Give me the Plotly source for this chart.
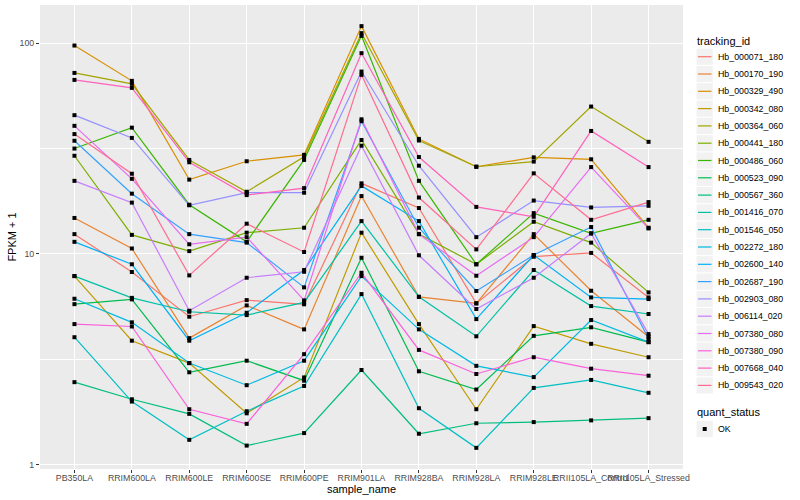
import plotly.graph_objects as go

samples = ["PB350LA", "RRIM600LA", "RRIM600LE", "RRIM600SE", "RRIM600PE", "RRIM901LA",
           "RRIM928BA", "RRIM928LA", "RRIM928LE", "RRII105LA_Control", "RRII105LA_Stressed"]

# FPKM + 1 values per gene, in sample order
hb_000071_180 = [12.4, 8.20, 5.03, 6.03, 5.76, 21.6, 16.5, 5.82, 9.69, 10.1, 6.21]
hb_000170_190 = [14.8, 10.6, 3.98, 5.69, 4.38, 18.8, 6.25, 5.82, 12.4, 6.68, 4.04]
hb_000329_490 = [97.4, 66.2, 22.5, 27.5, 29.5, 120.4, 35.1, 25.9, 28.7, 28.1, 13.3]
hb_000342_080 = [7.84, 3.87, 3.03, 1.75, 2.59, 12.6, 4.64, 1.83, 4.54, 3.74, 3.23]
hb_000364_060 = [72.2, 64.1, 27.9, 19.7, 28.9, 111.5, 34.5, 25.9, 27.4, 50.0, 34.0]
hb_000441_180 = [29.2, 12.3, 10.3, 12.6, 13.3, 34.7, 12.4, 8.92, 14.2, 11.3, 6.56]
hb_000486_060 = [31.6, 39.7, 17.1, 11.4, 27.9, 108.3, 22.2, 8.92, 15.6, 12.5, 14.5]
hb_000523_090 = [5.77, 6.08, 2.74, 3.11, 2.50, 9.58, 2.77, 2.27, 4.08, 4.48, 3.81]
hb_000567_360 = [2.46, 2.04, 1.74, 1.23, 1.41, 2.81, 1.40, 1.57, 1.59, 1.62, 1.66]
hb_001416_070 = [7.84, 6.18, 5.31, 5.12, 5.88, 14.3, 6.25, 4.06, 8.38, 5.65, 5.18]
hb_001546_050 = [4.02, 1.99, 1.31, 1.79, 2.36, 6.44, 1.85, 1.20, 2.31, 2.52, 2.19]
hb_002272_180 = [6.12, 4.73, 3.03, 2.38, 3.11, 7.84, 4.38, 2.94, 2.60, 4.85, 3.81]
hb_002600_140 = [11.4, 8.92, 3.87, 5.25, 8.38, 21.0, 14.3, 4.90, 9.87, 6.21, 6.10]
hb_002687_190 = [34.4, 19.3, 12.4, 11.3, 6.93, 42.6, 13.3, 6.66, 9.87, 13.4, 3.95]
hb_002903_080 = [45.5, 35.5, 17.0, 19.5, 19.5, 73.3, 26.2, 12.0, 17.9, 16.6, 16.9]
hb_006114_020 = [22.2, 17.5, 5.37, 7.70, 8.22, 32.6, 9.84, 5.47, 7.70, 12.5, 4.16]
hb_007380_080 = [40.5, 22.7, 11.1, 12.0, 6.01, 43.5, 12.4, 7.87, 12.0, 25.8, 13.2]
hb_007380_090 = [4.64, 4.52, 1.83, 1.56, 3.34, 8.13, 3.50, 2.69, 3.23, 2.85, 2.64]
hb_007668_040 = [66.9, 61.3, 27.2, 19.0, 20.5, 89.6, 28.8, 16.7, 15.0, 38.3, 25.8]
hb_009543_020 = [37.0, 24.0, 7.90, 13.9, 10.2, 70.7, 18.5, 10.5, 24.1, 14.5, 17.6]

tracking_ids = ["Hb_000071_180", "Hb_000170_190", "Hb_000329_490", "Hb_000342_080",
                "Hb_000364_060", "Hb_000441_180", "Hb_000486_060", "Hb_000523_090",
                "Hb_000567_360", "Hb_001416_070", "Hb_001546_050", "Hb_002272_180",
                "Hb_002600_140", "Hb_002687_190", "Hb_002903_080", "Hb_006114_020",
                "Hb_007380_080", "Hb_007380_090", "Hb_007668_040", "Hb_009543_020"]
series = [hb_000071_180, hb_000170_190, hb_000329_490, hb_000342_080, hb_000364_060,
          hb_000441_180, hb_000486_060, hb_000523_090, hb_000567_360, hb_001416_070,
          hb_001546_050, hb_002272_180, hb_002600_140, hb_002687_190, hb_002903_080,
          hb_006114_020, hb_007380_080, hb_007380_090, hb_007668_040, hb_009543_020]
colors = ["#F8766D", "#EA8331", "#D89000", "#C09B00", "#A3A500", "#7CAE00", "#39B600",
          "#00BB4E", "#00BF7D", "#00C1A3", "#00BFC4", "#00BAE0", "#00B0F6", "#35A2FF",
          "#9590FF", "#C77CFF", "#E76BF3", "#FA62DB", "#FF62BC", "#FF6C91"]
quant_status = ["OK"]

fig = go.Figure()
for tid, vals, col in zip(tracking_ids, series, colors):
    fig.add_trace(go.Scatter(x=samples, y=vals, mode="lines", name=tid,
                             line=dict(color=col, width=1.2), showlegend=False))

all_x = [s for _ in series for s in samples]
all_y = [v for vals in series for v in vals]
fig.add_trace(go.Scatter(x=all_x, y=all_y, mode="markers", name=quant_status[0],
                         marker=dict(symbol="square", size=4, color="black"),
                         showlegend=False))

# plot panel in pixels
PL, PR, PT, PB = 40, 683, 5, 469
W, H = 800, 500


def px2x(px):
    return (px - PL) / (PR - PL)


def px2y(py):
    return (PB - py) / (PB - PT)


shapes = []
annotations = []
FONT = "Liberation Sans, Arial, Helvetica, sans-serif"

# legend: tracking_id
annotations.append(dict(x=px2x(695), y=px2y(40.7), xref="paper", yref="paper",
                        text="tracking_id", showarrow=False, xanchor="left", yanchor="middle",
                        font=dict(family=FONT, size=11, color="black")))
for k, (tid, col) in enumerate(zip(tracking_ids, colors)):
    cy = 56.7 + 17.3 * k
    shapes.append(dict(type="rect", xref="paper", yref="paper",
                       x0=px2x(696.5), x1=px2x(712.8), y0=px2y(cy - 8.1), y1=px2y(cy + 8.1),
                       fillcolor="#F2F2F2", line=dict(width=0), layer="above"))
    shapes.append(dict(type="line", xref="paper", yref="paper",
                       x0=px2x(698), x1=px2x(711.5), y0=px2y(cy), y1=px2y(cy),
                       line=dict(color=col, width=1.2), layer="above"))
    annotations.append(dict(x=px2x(716), y=px2y(cy), xref="paper", yref="paper",
                            text=tid, showarrow=False, xanchor="left", yanchor="middle",
                            font=dict(family=FONT, size=8.8, color="black")))

# legend: quant_status
annotations.append(dict(x=px2x(695), y=px2y(412), xref="paper", yref="paper",
                        text="quant_status", showarrow=False, xanchor="left", yanchor="middle",
                        font=dict(family=FONT, size=11, color="black")))
cy = 429
shapes.append(dict(type="rect", xref="paper", yref="paper",
                   x0=px2x(696.5), x1=px2x(712.8), y0=px2y(cy - 8.1), y1=px2y(cy + 8.1),
                   fillcolor="#F2F2F2", line=dict(width=0), layer="above"))
shapes.append(dict(type="rect", xref="paper", yref="paper",
                   x0=px2x(702.7), x1=px2x(706.7), y0=px2y(cy - 2), y1=px2y(cy + 2),
                   fillcolor="black", line=dict(width=0), layer="above"))
annotations.append(dict(x=px2x(716), y=px2y(cy), xref="paper", yref="paper",
                        text=quant_status[0], showarrow=False, xanchor="left", yanchor="middle",
                        font=dict(family=FONT, size=8.8, color="black")))

fig.update_layout(
    width=W, height=H,
    margin=dict(l=PL, r=W - PR, t=PT, b=H - PB, pad=0),
    plot_bgcolor="#EBEBEB", paper_bgcolor="white",
    font=dict(family=FONT, size=8.8, color="#4D4D4D"),
    showlegend=False,
    shapes=shapes, annotations=annotations,
)
fig.update_xaxes(
    type="category", categoryorder="array", categoryarray=samples,
    range=[-0.6, len(samples) - 0.4],
    showgrid=True, gridcolor="white", gridwidth=1.4,
    ticks="outside", ticklen=3, tickwidth=1, tickcolor="#333333", tickangle=0,
    ticklabelstandoff=-3,
    tickfont=dict(family=FONT, size=8.8, color="#4D4D4D"),
    title=dict(text="sample_name", font=dict(family=FONT, size=11, color="black"), standoff=0),
    zeroline=False, showline=False, automargin=False,
)
fig.update_yaxes(
    type="log", range=[-0.0212, 2.1809],
    tickvals=[1, 10, 100], ticktext=["1", "10", "100"],
    showgrid=True, gridcolor="white", gridwidth=1.4,
    minor=dict(tickvals=[3.1623, 31.623], showgrid=True, gridcolor="white", gridwidth=0.7, ticks=""),
    ticks="outside", ticklen=3, tickwidth=1, tickcolor="#333333",
    tickfont=dict(family=FONT, size=8.8, color="#4D4D4D"),
    title=dict(text="FPKM + 1", font=dict(family=FONT, size=11, color="black"), standoff=0),
    zeroline=False, showline=False, automargin=False,
)

fig.write_html("out.html", config={"displayModeBar": False},
               post_script="document.body.style.margin='0';document.body.style.padding='0';")
